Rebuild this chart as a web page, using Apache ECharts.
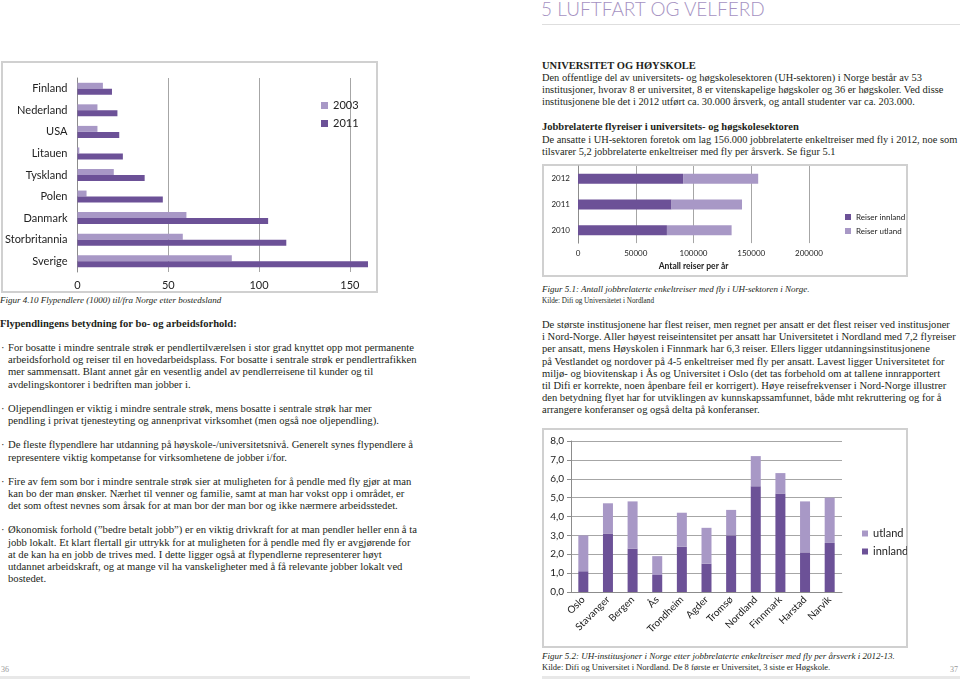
<!DOCTYPE html>
<html><head><meta charset="utf-8">
<script src="https://cdn.jsdelivr.net/npm/echarts@6/dist/echarts.min.js"></script>
<style>
html,body{margin:0;padding:0;background:#fff;}
body{width:960px;height:680px;position:relative;overflow:hidden;font-family:"Liberation Serif",serif;color:#231f20;}
.t{position:absolute;white-space:nowrap;font-size:10.5px;line-height:12px;}
.b{font-weight:bold;}
.i{font-style:italic;}
.chart{position:absolute;}
.frame{position:absolute;border:2px solid #d0d0d0;box-sizing:border-box;pointer-events:none;}
.rule{position:absolute;height:3px;background:#e8e8e8;}
</style></head><body>
<div id="page"></div>
<div class="frame" style="left:1px;top:61px;width:377px;height:232px"></div>
<div class="chart" id="c1" style="left:2px;top:62px;width:375px;height:230px"></div>
<div class="frame" style="left:542px;top:164px;width:366px;height:113px"></div>
<div class="chart" id="c2" style="left:543px;top:165px;width:364px;height:111px"></div>
<div class="frame" style="left:542px;top:428px;width:366px;height:220px"></div>
<div class="chart" id="c3" style="left:543px;top:429px;width:364px;height:218px"></div>
<script>
// ---- data: Figur 4.10 ----
const countries = ['Finland','Nederland','USA','Litauen','Tyskland','Polen','Danmark','Storbritannia','Sverige'];
const pendlere2003 = [14, 11, 11, 1, 20, 5, 60, 58, 85];
const pendlere2011 = [19, 22, 23, 25, 37, 47, 105, 115, 160];
// ---- data: Figur 5.1 ----
const years = ['2010', '2011', '2012'];
const reiserInnland = [77000, 81000, 91000];
const reiserUtland = [56000, 61000, 65000];
// ---- data: Figur 5.2 ----
const institusjoner = ['Oslo','Stavanger','Bergen','Ås','Trondheim','Agder','Tromsø','Nordland','Finnmark','Harstad','Narvik'];
const innland = [1.1, 3.1, 2.3, 0.9, 2.4, 1.5, 3.0, 5.6, 5.2, 2.1, 2.6];
const utland = [1.9, 1.6, 2.5, 1.0, 1.8, 1.9, 1.35, 1.6, 1.1, 2.7, 2.4];

// ---- page text ----
const leftBlocks = [
  {y:300, cls:'i', size:9, lines:['Figur 4.10 Flypendlere (1000) til/fra Norge etter bostedsland']},
  {y:324, cls:'b', size:10.6, lines:['Flypendlingens betydning for bo- og arbeidsforhold:']},
  {y:348, bullet:true, size:10.65, lines:[
    'For bosatte i mindre sentrale strøk er pendlertilværelsen i stor grad knyttet opp mot permanente',
    'arbeidsforhold og reiser til en hovedarbeidsplass. For bosatte i sentrale strøk er pendlertrafikken',
    'mer sammensatt. Blant annet går en vesentlig andel av pendlerreisene til kunder og til',
    'avdelingskontorer i bedriften man jobber i.']},
  {y:409, bullet:true, size:10.65, lines:[
    'Oljependlingen er viktig i mindre sentrale strøk, mens bosatte i sentrale strøk har mer',
    'pendling i privat tjenesteyting og annenprivat virksomhet (men også noe oljependling).']},
  {y:445.5, bullet:true, size:10.65, lines:[
    'De fleste flypendlere har utdanning på høyskole-/universitetsnivå. Generelt synes flypendlere å',
    'representere viktig kompetanse for virksomhetene de jobber i/for.']},
  {y:482, bullet:true, size:10.65, lines:[
    'Fire av fem som bor i mindre sentrale strøk sier at muligheten for å pendle med fly gjør at man',
    'kan bo der man ønsker. Nærhet til venner og familie, samt at man har vokst opp i området, er',
    'det som oftest nevnes som årsak for at man bor der man bor og ikke nærmere arbeidsstedet.']},
  {y:530.5, bullet:true, size:10.65, lines:[
    'Økonomisk forhold (”bedre betalt jobb”) er en viktig drivkraft for at man pendler heller enn å ta',
    'jobb lokalt. Et klart flertall gir uttrykk for at muligheten for å pendle med fly er avgjørende for',
    'at de kan ha en jobb de trives med. I dette ligger også at flypendlerne representerer høyt',
    'utdannet arbeidskraft, og at mange vil ha vanskeligheter med å få relevante jobber lokalt ved',
    'bostedet.']}
];
const rightBlocks = [
  {y:66, cls:'b', lines:['UNIVERSITET OG HØYSKOLE']},
  {y:77.7, size:10.4, lines:[
    'Den offentlige del av universitets- og høgskolesektoren (UH-sektoren) i Norge består av 53',
    'institusjoner, hvorav 8 er universitet, 8 er vitenskapelige høgskoler og 36 er høgskoler. Ved disse',
    'institusjonene ble det i 2012 utført ca. 30.000 årsverk, og antall studenter var ca. 203.000.']},
  {y:127, cls:'b', lines:['Jobbrelaterte flyreiser i universitets- og høgskolesektoren']},
  {y:140, size:10.4, lines:[
    'De ansatte i UH-sektoren foretok om lag 156.000 jobbrelaterte enkeltreiser med fly i 2012, noe som',
    'tilsvarer 5,2 jobbrelaterte enkeltreiser med fly per årsverk. Se figur 5.1']},
  {y:289, cls:'i', size:9, lines:['Figur 5.1: Antall jobbrelaterte enkeltreiser med fly i UH-sektoren i Norge.']},
  {y:301, size:7.2, lh:10, lines:['Kilde: Difi og Universitetet i Nordland']},
  {y:325, size:10.55, lines:[
    'De største institusjonene har flest reiser, men regnet per ansatt er det flest reiser ved institusjoner',
    'i Nord-Norge. Aller høyest reiseintensitet per ansatt har Universitetet i Nordland med 7,2 flyreiser',
    'per ansatt, mens Høyskolen i Finnmark har 6,3 reiser. Ellers ligger utdanningsinstitusjonene',
    'på Vestlandet og nordover på 4-5 enkeltreiser med fly per ansatt. Lavest ligger Universitetet for',
    'miljø- og biovitenskap i Ås og Universitet i Oslo (det tas forbehold om at tallene innrapportert',
    'til Difi er korrekte, noen åpenbare feil er korrigert).  Høye reisefrekvenser i Nord-Norge illustrer',
    'den betydning flyet har for utviklingen av kunnskapssamfunnet, både mht rekruttering og for å',
    'arrangere konferanser og også delta på konferanser.']},
  {y:656, cls:'i', size:9, lines:['Figur 5.2: UH-institusjoner i Norge etter jobbrelaterte enkeltreiser med fly per årsverk i 2012-13.']},
  {y:667, size:8.5, lh:10, lines:['Kilde: Difi og Universitet i Nordland. De 8 første er Universitet, 3 siste er Høgskole.']}
];
const page = document.getElementById('page');
function addText(x, y, txt, cls, size, lh) {
  const d = document.createElement('div');
  d.className = 't ' + (cls || '');
  const L = lh || 12.2;
  d.style.left = x + 'px';
  d.style.top = (y - L / 2) + 'px';
  d.style.lineHeight = L + 'px';
  if (size) d.style.fontSize = size + 'px';
  d.textContent = txt;
  page.appendChild(d);
}
function renderBlocks(blocks, x0) {
  blocks.forEach(b => {
    const L = b.lh || 12.2;
    b.lines.forEach((ln, k) => {
      addText(b.bullet ? x0 + 8 : x0, b.y + k * L, ln, b.cls, b.size, b.lh);
    });
    if (b.bullet) addText(x0 + 1, b.y, '·', b.cls, b.size, b.lh);
  });
}
renderBlocks(leftBlocks, 0);
renderBlocks(rightBlocks, 542);
// header
const h = document.createElement('div');
h.className = 't';
h.style.cssText = 'left:541px;top:-2px;font-family:Lato,"Open Sans",sans-serif;font-weight:300;font-size:19px;line-height:22px;color:#a592c2;';
h.textContent = '5 LUFTFART OG VELFERD';
page.appendChild(h);
const r0 = document.createElement('div'); r0.className='rule'; r0.style.cssText='left:542px;top:24px;width:418px;height:1px;background:#dedede;'; page.appendChild(r0);
const r1 = document.createElement('div'); r1.className='rule'; r1.style.cssText='left:0;top:676px;width:470px;'; page.appendChild(r1);
const r2 = document.createElement('div'); r2.className='rule'; r2.style.cssText='left:542px;top:676px;width:418px;'; page.appendChild(r2);
const p36 = document.createElement('div'); p36.className='t'; p36.style.cssText='left:1px;top:664px;font-size:8px;color:#999;'; p36.textContent='36'; page.appendChild(p36);
const p37 = document.createElement('div'); p37.className='t'; p37.style.cssText='left:950px;top:664px;font-size:8px;color:#999;'; p37.textContent='37'; page.appendChild(p37);

// ---- charts ----
const DARK = '#6c5197', LIGHT = '#a898c6';
const FONT = 'Lato, "Open Sans", sans-serif';
const AX = '#8c8c8c', GRID = '#a6a6a6';

const c1 = echarts.init(document.getElementById('c1'));
c1.setOption({
  animation: false,
  textStyle: {fontFamily: FONT},
  grid: {left: 72, top: 16, right: 9, bottom: 20, containLabel: false},
  legend: {orient: 'vertical', left: 314, top: 33, itemWidth: 7, itemHeight: 7, itemGap: 7, icon: 'rect',
    textStyle: {fontSize: 11, color: '#222', fontFamily: FONT}, data: ['2003', '2011']},
  xAxis: {type: 'value', min: 0, max: 160, interval: 50,
    axisLine: {show: false}, axisTick: {show: false},
    axisLabel: {fontSize: 11, color: '#222', margin: 8, showMaxLabel: false},
    splitLine: {lineStyle: {color: GRID}, showMaxLine: false}},
  yAxis: {type: 'category', data: countries, inverse: true,
    axisLine: {lineStyle: {color: AX}}, axisTick: {length: 4, lineStyle: {color: AX}},
    axisLabel: {fontSize: 11, color: '#222', margin: 10}},
  series: [
    {name: '2003', type: 'bar', data: pendlere2003, barWidth: 6, barGap: '0%', itemStyle: {color: LIGHT}},
    {name: '2011', type: 'bar', data: pendlere2011, barWidth: 6, barGap: '0%', itemStyle: {color: DARK}}
  ]
});

const c2 = echarts.init(document.getElementById('c2'));
c2.setOption({
  animation: false,
  textStyle: {fontFamily: FONT},
  grid: {left: 35, top: 1, right: 98, bottom: 31},
  legend: {orient: 'vertical', left: 297, top: 43, itemWidth: 6, itemHeight: 6, itemGap: 6, icon: 'rect',
    textStyle: {fontSize: 8, color: '#222', fontFamily: FONT}, data: ['Reiser innland', 'Reiser utland']},
  xAxis: {type: 'value', min: 0, max: 200000, interval: 50000,
    name: 'Antall reiser per år', nameLocation: 'middle', nameGap: 17,
    nameTextStyle: {fontSize: 8.5, fontWeight: 'bold', color: '#222'},
    axisLine: {show: false}, axisTick: {show: false},
    axisLabel: {fontSize: 8, color: '#222', margin: 6, formatter: v => String(v)},
    splitLine: {lineStyle: {color: GRID}}},
  yAxis: {type: 'category', data: years,
    axisLine: {lineStyle: {color: AX}}, axisTick: {length: 3, lineStyle: {color: AX}},
    axisLabel: {fontSize: 8, color: '#222', margin: 8}},
  series: [
    {name: 'Reiser innland', type: 'bar', stack: 'r', data: reiserInnland, barWidth: 10, itemStyle: {color: DARK}},
    {name: 'Reiser utland', type: 'bar', stack: 'r', data: reiserUtland, barWidth: 10, itemStyle: {color: LIGHT}}
  ]
});

const c3 = echarts.init(document.getElementById('c3'));
c3.setOption({
  animation: false,
  textStyle: {fontFamily: FONT},
  grid: {left: 28, top: 12, right: 65, bottom: 55},
  legend: {orient: 'vertical', left: 314, top: 94, itemWidth: 6, itemHeight: 6, itemGap: 7, icon: 'rect',
    textStyle: {fontSize: 11, color: '#222', fontFamily: FONT}, data: ['utland', 'innland']},
  xAxis: {type: 'category', data: institusjoner,
    axisLine: {lineStyle: {color: AX}}, axisTick: {length: 4, lineStyle: {color: AX}},
    axisLabel: {fontSize: 10, color: '#222', rotate: 45, interval: 0, margin: 6}},
  yAxis: {type: 'value', min: 0, max: 8, interval: 1,
    axisLine: {show: true, lineStyle: {color: AX}}, axisTick: {show: true, length: 4, lineStyle: {color: AX}},
    axisLabel: {fontSize: 10, color: '#222', margin: 7, formatter: v => v.toFixed(1).replace('.', ',')},
    splitLine: {lineStyle: {color: GRID}}},
  series: [
    {name: 'innland', type: 'bar', stack: 's', data: innland, barWidth: 10, itemStyle: {color: DARK}},
    {name: 'utland', type: 'bar', stack: 's', data: utland, barWidth: 10, itemStyle: {color: LIGHT}}
  ]
});
</script>
</body></html>
